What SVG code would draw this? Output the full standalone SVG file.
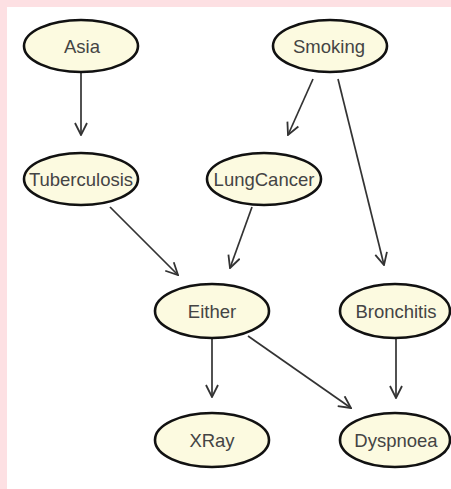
<svg xmlns="http://www.w3.org/2000/svg" width="451" height="489" viewBox="0 0 451 489">
<defs>
<style>
.node ellipse{fill:#fcfae0;stroke:#111;stroke-width:2.6}
.node text{font-family:"Liberation Sans",Arial,sans-serif;font-size:18.5px;fill:#444;text-anchor:middle;dominant-baseline:central}
.edges line{stroke:#333;stroke-width:1.7;fill:none;marker-end:url(#arr)}
</style>
<marker id="arr" viewBox="0 0 14 14" refX="13" refY="7" markerWidth="14" markerHeight="14" markerUnits="userSpaceOnUse" orient="auto">
<path d="M1,1 L13,7 L1,13" fill="none" stroke="#333" stroke-width="1.8"/>
</marker>
</defs>
<rect x="0" y="0" width="451" height="489" fill="#fde0e3"/>
<rect x="7" y="7" width="444" height="482" fill="#ffffff"/>
<g class="edges" id="connectors">
<line x1="81" y1="72" x2="81" y2="135"/>
<line x1="313" y1="79" x2="288" y2="135"/>
<line x1="338" y1="79" x2="384" y2="265"/>
<line x1="110" y1="207" x2="178" y2="275"/>
<line x1="252" y1="207" x2="230" y2="268"/>
<line x1="212" y1="338" x2="212" y2="397"/>
<line x1="248" y1="336" x2="351" y2="408"/>
<line x1="396" y1="338" x2="396" y2="398"/>
</g>
<g class="node" id="asia"><ellipse cx="81" cy="46" rx="57" ry="26"/><text x="82" y="46">Asia</text></g>
<g class="node" id="smoking"><ellipse cx="330" cy="46" rx="57" ry="26"/><text x="329" y="46">Smoking</text></g>
<g class="node" id="tuberculosis"><ellipse cx="81" cy="179" rx="57" ry="26"/><text x="81" y="179">Tuberculosis</text></g>
<g class="node" id="lungcancer"><ellipse cx="264" cy="179" rx="57" ry="26"/><text x="264" y="179">LungCancer</text></g>
<g class="node" id="either"><ellipse cx="212" cy="311" rx="57" ry="27"/><text x="212" y="311">Either</text></g>
<g class="node" id="bronchitis"><ellipse cx="395" cy="311" rx="55" ry="27"/><text x="396" y="311">Bronchitis</text></g>
<g class="node" id="xray"><ellipse cx="212" cy="440" rx="57" ry="27"/><text x="212" y="440">XRay</text></g>
<g class="node" id="dyspnoea"><ellipse cx="395" cy="440" rx="55" ry="27"/><text x="396" y="440">Dyspnoea</text></g>
</svg>
